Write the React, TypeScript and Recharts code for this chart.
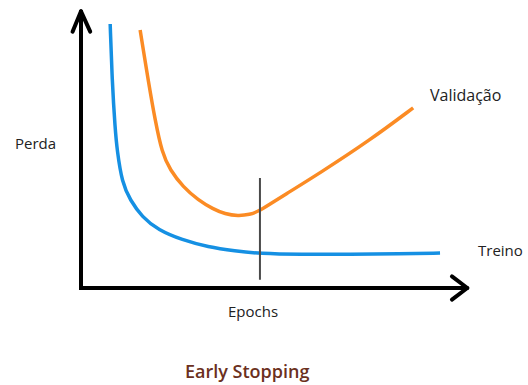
import React from 'react';
import { LineChart, Line, XAxis, YAxis, ReferenceLine } from 'recharts';

// Curves (epochs 0-100, loss 0-100)
const treino = [
  { epoch: 7.6, loss: 96.0 },
  { epoch: 8.1, loss: 75.6 },
  { epoch: 8.9, loss: 57.5 },
  { epoch: 9.4, loss: 50.2 },
  { epoch: 10.7, loss: 38.2 },
  { epoch: 12.8, loss: 32.0 },
  { epoch: 15.9, loss: 25.8 },
  { epoch: 20.1, loss: 21.1 },
  { epoch: 26.3, loss: 17.5 },
  { epoch: 33.1, loss: 14.9 },
  { epoch: 40.1, loss: 13.5 },
  { epoch: 46.6, loss: 12.5 },
  { epoch: 57.0, loss: 12.2 },
  { epoch: 70.1, loss: 12.2 },
  { epoch: 83.1, loss: 12.4 },
  { epoch: 93.5, loss: 12.7 },
];

const validacao = [
  { epoch: 15.4, loss: 93.8 },
  { epoch: 17.7, loss: 73.8 },
  { epoch: 19.3, loss: 61.1 },
  { epoch: 21.1, loss: 49.1 },
  { epoch: 23.2, loss: 42.9 },
  { epoch: 26.6, loss: 36.7 },
  { epoch: 30.5, loss: 32.0 },
  { epoch: 34.4, loss: 28.7 },
  { epoch: 37.5, loss: 26.9 },
  { epoch: 40.9, loss: 26.2 },
  { epoch: 44.0, loss: 26.7 },
  { epoch: 46.1, loss: 27.8 },
  { epoch: 49.2, loss: 30.5 },
  { epoch: 52.6, loss: 33.5 },
  { epoch: 62.2, loss: 41.8 },
  { epoch: 75.3, loss: 53.8 },
  { epoch: 86.5, loss: 65.5 },
];

const stopEpoch = 46.6;
const stopRange = [3, 40];

const font = '"Open Sans", sans-serif';

const label = (text: string, left: number, top: number, extra: React.CSSProperties = {}) => (
  <div
    style={{
      position: 'absolute',
      left,
      top,
      fontFamily: font,
      fontSize: 15,
      lineHeight: 1,
      color: '#222',
      whiteSpace: 'nowrap',
      ...extra,
    }}
  >
    {text}
  </div>
);

const App = () => {
  return (
    <div style={{ position: 'absolute', left: 0, top: 0, width: 528, height: 385, background: '#fff' }}>
      <LineChart width={528} height={385} margin={{ top: 13, right: 63, bottom: 97, left: 81 }}>
        <XAxis type="number" dataKey="epoch" domain={[0, 100]} hide allowDataOverflow />
        <YAxis type="number" dataKey="loss" domain={[0, 100]} hide allowDataOverflow />

        {/* axes with arrow heads */}
        <ReferenceLine segment={[{ x: 0, y: 0 }, { x: 100.3, y: 0 }]} stroke="#000" strokeWidth={4} ifOverflow="visible" />
        <ReferenceLine segment={[{ x: 0, y: -0.7 }, { x: 0, y: 100.2 }]} stroke="#000" strokeWidth={4} ifOverflow="visible" />
        <ReferenceLine segment={[{ x: 96.6, y: 4.2 }, { x: 100.6, y: 0 }]} stroke="#000" strokeWidth={4} strokeLinecap="round" ifOverflow="visible" />
        <ReferenceLine segment={[{ x: 96.6, y: -4.2 }, { x: 100.6, y: 0 }]} stroke="#000" strokeWidth={4} strokeLinecap="round" ifOverflow="visible" />
        <ReferenceLine segment={[{ x: -2.2, y: 93.2 }, { x: 0, y: 100.6 }]} stroke="#000" strokeWidth={4} strokeLinecap="round" ifOverflow="visible" />
        <ReferenceLine segment={[{ x: 2.4, y: 93.2 }, { x: 0, y: 100.6 }]} stroke="#000" strokeWidth={4} strokeLinecap="round" ifOverflow="visible" />

        <Line
          data={treino}
          dataKey="loss"
          type="basis"
          stroke="#1590e3"
          strokeWidth={3.5}
          dot={false}
          isAnimationActive={false}
        />
        <Line
          data={validacao}
          dataKey="loss"
          type="basis"
          stroke="#fb8b24"
          strokeWidth={3.5}
          dot={false}
          isAnimationActive={false}
        />

        <ReferenceLine
          segment={[{ x: stopEpoch, y: stopRange[0] }, { x: stopEpoch, y: stopRange[1] }]}
          stroke="#4a4a4a"
          strokeWidth={2}
        />
      </LineChart>

      {label('Perda', 15, 136)}
      {label('Validação', 430, 87, { fontSize: 16 })}
      {label('Treino', 478, 243)}
      {label('Epochs', 228, 304)}
      {label('Early Stopping', 185, 362, { fontSize: 18, fontWeight: 600, color: '#6b3020' })}
    </div>
  );
};

export default App;
